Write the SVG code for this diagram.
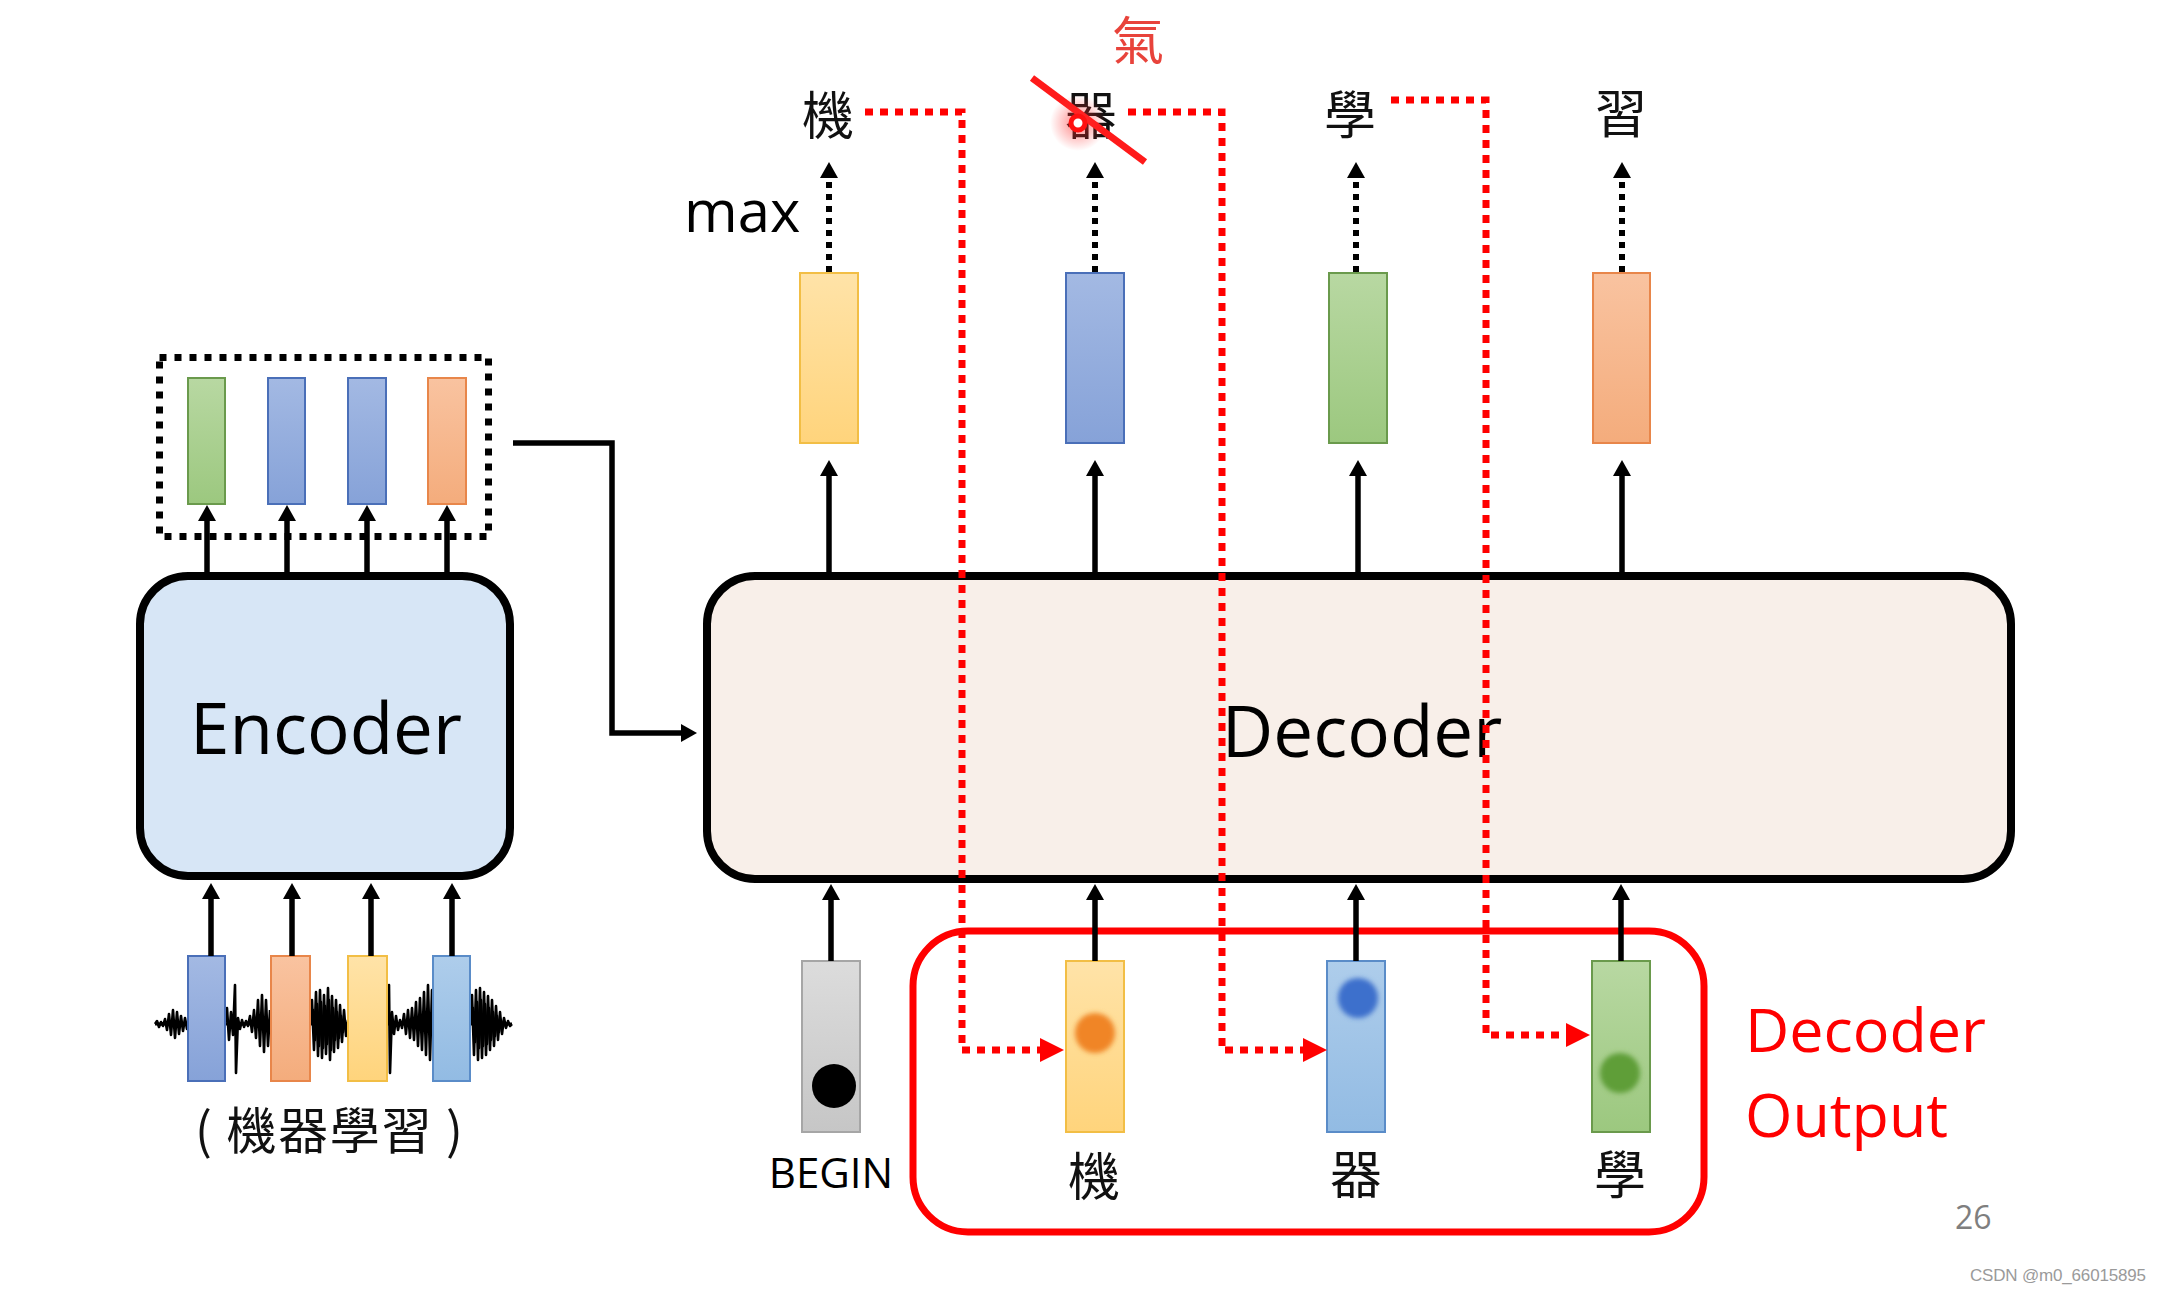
<svg xmlns="http://www.w3.org/2000/svg" width="2160" height="1292" viewBox="0 0 2160 1292">
<defs>
<style>
.lat{font-family:"Open Sans","Noto Sans",sans-serif}
.cjk{font-family:"Noto Sans CJK TC","Noto Sans CJK SC",sans-serif;font-size:52px;text-anchor:middle;fill:#111}
.bar{stroke-width:2}
.arrow{stroke:#000;stroke-width:5.5;fill:none;marker-end:url(#ah)}
.dotarrow{stroke:#000;stroke-width:6;stroke-dasharray:6 6;fill:none;marker-end:url(#ah)}
.red{stroke:#FF0000;stroke-width:7;stroke-dasharray:8 7;fill:none;marker-end:url(#rh)}
.box{stroke:#000;stroke-width:8}
.yel{fill:url(#gYel);stroke:#F2BE45}
.blu{fill:url(#gBlu);stroke:#4A6FB8}
.grn{fill:url(#gGrn);stroke:#6A9A4C}
.org{fill:url(#gOrg);stroke:#E8864A}
.lbl{fill:url(#gLbl);stroke:#5A8CC8}
.gry{fill:url(#gGry);stroke:#A6A6A6}
.wave{fill:none;stroke:#000;stroke-width:2.6;stroke-linejoin:round}
</style>
<linearGradient id="gYel" x1="0" y1="0" x2="0" y2="1"><stop offset="0" stop-color="#FFE3A8"/><stop offset="1" stop-color="#FFD47C"/></linearGradient>
<linearGradient id="gBlu" x1="0" y1="0" x2="0" y2="1"><stop offset="0" stop-color="#A3B9E3"/><stop offset="1" stop-color="#86A2D8"/></linearGradient>
<linearGradient id="gGrn" x1="0" y1="0" x2="0" y2="1"><stop offset="0" stop-color="#B8D8A2"/><stop offset="1" stop-color="#9CC87F"/></linearGradient>
<linearGradient id="gOrg" x1="0" y1="0" x2="0" y2="1"><stop offset="0" stop-color="#F9C3A0"/><stop offset="1" stop-color="#F4AC7C"/></linearGradient>
<linearGradient id="gLbl" x1="0" y1="0" x2="0" y2="1"><stop offset="0" stop-color="#AECDEB"/><stop offset="1" stop-color="#92BBE3"/></linearGradient>
<linearGradient id="gGry" x1="0" y1="0" x2="0" y2="1"><stop offset="0" stop-color="#DCDCDC"/><stop offset="1" stop-color="#C6C6C6"/></linearGradient>
<radialGradient id="glow"><stop offset="0" stop-color="#FF3030" stop-opacity="0.6"/><stop offset="1" stop-color="#FF3030" stop-opacity="0"/></radialGradient>
<filter id="blur" x="-50%" y="-50%" width="200%" height="200%"><feGaussianBlur stdDeviation="2.5"/></filter>
<marker id="ah" markerUnits="userSpaceOnUse" viewBox="0 0 16 18" markerWidth="16" markerHeight="18" refX="0" refY="9" orient="auto"><path d="M0,0 L16,9 L0,18 Z" fill="#000"/></marker>
<marker id="rh" markerUnits="userSpaceOnUse" viewBox="0 0 24 24" markerWidth="24" markerHeight="24" refX="0" refY="12" orient="auto"><path d="M0,0 L24,12 L0,24 Z" fill="#FF0000"/></marker>
</defs>
<rect width="2160" height="1292" fill="#FFFFFF"/>

<g id="waveform">
<path d="M155,1024 H512" stroke="#000" stroke-width="3"/>
<polyline class="wave" points="155,1024 157,1021 159,1027 161,1022 163,1026 165,1019 167,1030 169,1014 171,1035 173,1010 175,1038 177,1012 179,1034 181,1016 183,1031 185,1018 187,1029 189,1024"/>
<polyline class="wave" points="225,1024 227,1008 229,1040 231,1012 233,1035 235,985 236,1073 238,1018 240,1029 242,1020 244,1027 246,1021 248,1026 250,1016 252,1032 254,1010 256,1038 258,1000 260,1046 262,995 264,1052 266,1000 268,1046 270,1010"/>
<polyline class="wave" points="310,1024 312,1000 314,1050 316,992 318,1056 320,990 322,1058 324,995 326,1054 328,988 330,1060 332,996 334,1052 336,1000 338,1048 340,1005 342,1042 344,1010 346,1036 348,1024"/>
<polyline class="wave" points="387,1024 389,985 390,1073 392,1012 394,1034 396,1016 398,1030 400,1020 402,1028 404,1014 406,1034 408,1010 410,1038 412,1008 414,1040 416,1002 418,1046 420,998 422,1050 424,992 426,1055 428,985 430,1060 432,990 434,1024"/>
<polyline class="wave" points="470,1024 472,995 474,1055 476,990 478,1060 480,988 482,1058 484,992 486,1055 488,996 490,1050 492,1000 494,1046 496,1006 498,1040 500,1012 502,1034 504,1018 506,1028 508,1021 510,1026 512,1024"/>
<polyline class="wave" stroke-width="1.6" points="311,1024 313,1010 315,1040 317,1004 319,1046 321,1002 323,1048 325,1006 327,1044 329,1000 331,1050 333,1008 335,1040 337,1012 339,1038 341,1016 343,1032 345,1020 347,1028"/>
<polyline class="wave" stroke-width="1.6" points="471,1024 473,1008 475,1042 477,1002 479,1048 481,1000 483,1046 485,1004 487,1044 489,1008 491,1040 493,1012 495,1036 497,1016 499,1032 501,1020 503,1028"/>
</g>

<g id="encoder-inputs" class="bar">
<rect class="blu" x="188" y="956" width="37" height="125"/>
<rect class="org" x="271" y="956" width="39" height="125"/>
<rect class="yel" x="348" y="956" width="39" height="125"/>
<rect class="lbl" x="433" y="956" width="37" height="125"/>
</g>
<text id="input-label" class="cjk" x="329" y="1149" textLength="268" style="font-size:50px">( 機器學習 )</text>

<g id="encoder">
<rect class="box" x="140" y="576" width="370" height="300" rx="48" fill="#D7E6F6"/>
<text class="lat" x="326" y="754" font-size="71" text-anchor="middle" fill="#000">Encoder</text>
</g>

<g id="encoder-outputs">
<rect x="159.5" y="357.5" width="329" height="179" fill="none" stroke="#000" stroke-width="7" stroke-dasharray="7 8"/>
<g class="bar">
<rect class="grn" x="188" y="378" width="37" height="126"/>
<rect class="blu" x="268" y="378" width="37" height="126"/>
<rect class="blu" x="348" y="378" width="38" height="126"/>
<rect class="org" x="428" y="378" width="38" height="126"/>
</g>
</g>

<g id="decoder">
<rect class="box" x="707" y="576" width="1304" height="303" rx="48" fill="#F8EFE9"/>
<text class="lat" x="1362" y="757" font-size="71" text-anchor="middle" fill="#000">Decoder</text>
</g>

<g id="decoder-outputs" class="bar">
<rect class="yel" x="800" y="273" width="58" height="170"/>
<rect class="blu" x="1066" y="273" width="58" height="170"/>
<rect class="grn" x="1329" y="273" width="58" height="170"/>
<rect class="org" x="1593" y="273" width="57" height="170"/>
</g>

<g id="output-labels">
<text class="cjk" x="828" y="135">機</text>
<text class="cjk" x="1091" y="135">器</text>
<text class="cjk" x="1350" y="134">學</text>
<text class="cjk" x="1621" y="133">習</text>
<text class="cjk" x="1138" y="60" style="fill:#E8433B">氣</text>
<text class="lat" x="684" y="232" font-size="58" fill="#000">max</text>
</g>

<g id="correction">
<line x1="1032" y1="78" x2="1145" y2="162" stroke="#FF1A1A" stroke-width="7"/>
<circle cx="1078" cy="123" r="28" fill="url(#glow)"/>
<circle cx="1078" cy="123" r="7" fill="#FFFFFF" stroke="#FF1010" stroke-width="5"/>
</g>

<g id="decoder-output-box">
<rect x="913" y="931" width="791" height="301" rx="55" fill="none" stroke="#FF0000" stroke-width="7"/>
<text class="lat" x="1745" y="1052" font-size="61" fill="#FF0000">Decoder</text>
<text class="lat" x="1745" y="1137" font-size="61" fill="#FF0000">Output</text>
</g>

<g id="decoder-inputs" class="bar">
<rect class="gry" x="802" y="961" width="58" height="171"/>
<rect class="yel" x="1066" y="961" width="58" height="171"/>
<rect class="lbl" x="1327" y="961" width="58" height="171"/>
<rect class="grn" x="1592" y="961" width="58" height="171"/>
</g>
<g id="input-dots">
<circle cx="834" cy="1086" r="22" fill="#000"/>
<circle cx="1095" cy="1033" r="20" fill="#F08526" filter="url(#blur)"/>
<circle cx="1358" cy="998" r="20" fill="#3C6FCC" filter="url(#blur)"/>
<circle cx="1620" cy="1073" r="20" fill="#5E9E38" filter="url(#blur)"/>
</g>
<g id="input-labels">
<text class="lat" x="831" y="1188" font-size="42" text-anchor="middle" fill="#000">BEGIN</text>
<text class="cjk" x="1094" y="1196">機</text>
<text class="cjk" x="1356" y="1194">器</text>
<text class="cjk" x="1620" y="1194">學</text>
</g>

<g id="connectors">
<path class="arrow" d="M207,572 V521"/>
<path class="arrow" d="M287,572 V521"/>
<path class="arrow" d="M367,572 V521"/>
<path class="arrow" d="M447,572 V521"/>
<path class="arrow" d="M211,956 V899"/>
<path class="arrow" d="M292,956 V899"/>
<path class="arrow" d="M371,956 V899"/>
<path class="arrow" d="M452,956 V899"/>
<path class="arrow" d="M513,443 H612 V733 H681" stroke-width="6"/>
<path class="arrow" d="M829,572 V476"/>
<path class="arrow" d="M1095,572 V476"/>
<path class="arrow" d="M1358,572 V476"/>
<path class="arrow" d="M1622,572 V476"/>
<path class="dotarrow" d="M829,272 V178"/>
<path class="dotarrow" d="M1095,272 V178"/>
<path class="dotarrow" d="M1356,272 V178"/>
<path class="dotarrow" d="M1622,272 V178"/>
<path class="arrow" d="M831,961 V900"/>
<path class="arrow" d="M1095,961 V900"/>
<path class="arrow" d="M1356,961 V900"/>
<path class="arrow" d="M1621,961 V900"/>
<path class="red" d="M865,112 H962 V1050 H1040"/>
<path class="red" d="M1128,112 H1222 V1050 H1303"/>
<path class="red" d="M1391,100 H1486 V1035 H1566"/>
</g>

<text x="1955" y="1229" font-family="'Open Sans','Noto Sans',sans-serif" font-size="32" fill="#7F7F7F">26</text>
<text x="1970" y="1281" font-family="'Liberation Sans',sans-serif" font-size="17" fill="#9A9A9A" textLength="176">CSDN @m0_66015895</text>
</svg>
